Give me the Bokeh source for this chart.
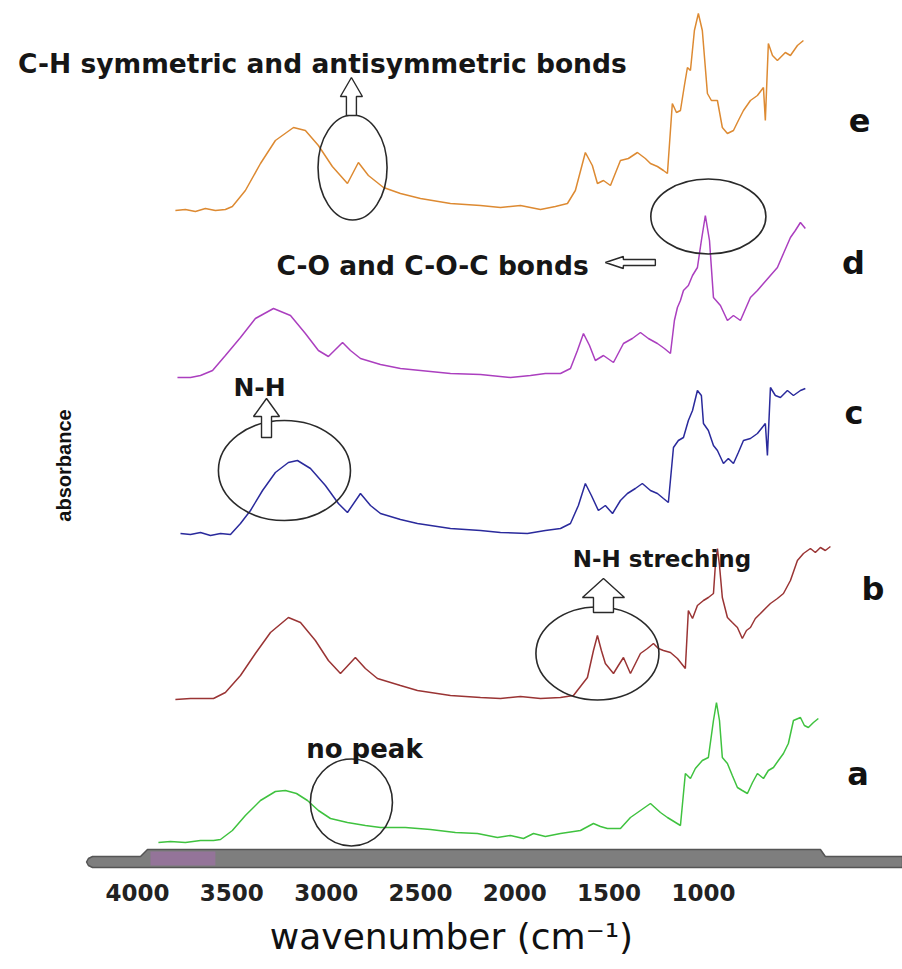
import math
from bokeh.plotting import figure
from bokeh.models import Range1d, FixedTicker
from bokeh.core.properties import value
from bokeh.embed import file_html
from bokeh.resources import INLINE

# ---------------- data (wavenumber in cm-1, absorbance in arbitrary units) ----------------
tick_values = [4000, 3500, 3000, 2500, 2000, 1500, 1000]

e_wn = [3799, 3746, 3693, 3640, 3587, 3534, 3497, 3428, 3348, 3269, 3173, 3110, 3041, 2967, 2887, 2829, 2776,
        2696, 2606, 2500, 2341, 2182, 2076, 1970, 1864, 1785, 1721, 1679, 1626, 1589, 1562, 1530, 1493, 1440,
        1398, 1350, 1308, 1281, 1244, 1212, 1191, 1165, 1143, 1122, 1101, 1085, 1069, 1048, 1027, 1006, 979,
        958, 926, 900, 873, 841, 815, 788, 751, 714, 682, 672, 656, 634, 608, 566, 539, 502, 470]
e_abs = [0.00, 0.01, -0.01, 0.02, 0.00, 0.01, 0.04, 0.20, 0.47, 0.70, 0.83, 0.80, 0.65, 0.44, 0.27, 0.48, 0.35,
         0.23, 0.17, 0.12, 0.07, 0.05, 0.03, 0.05, 0.01, 0.04, 0.07, 0.20, 0.58, 0.45, 0.27, 0.30, 0.25, 0.50,
         0.52, 0.58, 0.52, 0.47, 0.44, 0.40, 0.37, 1.07, 0.98, 1.00, 1.25, 1.43, 1.40, 1.80, 1.97, 1.80, 1.17,
         1.10, 1.10, 0.83, 0.77, 0.80, 0.90, 1.00, 1.10, 1.15, 1.23, 0.90, 1.67, 1.55, 1.50, 1.58, 1.55, 1.65, 1.70]

d_wn = [3788, 3719, 3666, 3602, 3534, 3454, 3375, 3279, 3189, 3110, 3041, 2988, 2913, 2871, 2818, 2712, 2606,
        2341, 2182, 2023, 1917, 1838, 1758, 1705, 1668, 1636, 1604, 1573, 1530, 1477, 1424, 1377, 1334, 1292,
        1244, 1207, 1175, 1154, 1138, 1122, 1106, 1080, 1058, 1032, 1011, 990, 968, 947, 910, 873, 841, 804,
        751, 714, 682, 645, 608, 576, 539, 513, 486, 460]
d_abs = [0.00, 0.00, 0.02, 0.07, 0.22, 0.40, 0.59, 0.69, 0.62, 0.44, 0.27, 0.21, 0.35, 0.27, 0.19, 0.13, 0.09,
         0.04, 0.03, 0.00, 0.02, 0.04, 0.04, 0.09, 0.27, 0.44, 0.32, 0.17, 0.22, 0.15, 0.34, 0.39, 0.45, 0.39,
         0.34, 0.29, 0.24, 0.57, 0.70, 0.77, 0.87, 0.92, 1.02, 1.10, 1.37, 1.62, 1.37, 0.80, 0.72, 0.57, 0.62,
         0.57, 0.80, 0.87, 0.94, 1.02, 1.10, 1.24, 1.40, 1.47, 1.55, 1.49]

c_wn = [3772, 3719, 3666, 3613, 3560, 3507, 3454, 3401, 3337, 3269, 3200, 3152, 3083, 3004, 2935, 2887, 2818,
        2765, 2712, 2606, 2516, 2341, 2182, 2076, 1933, 1838, 1758, 1705, 1663, 1626, 1594, 1557, 1520, 1482,
        1440, 1403, 1361, 1324, 1281, 1244, 1212, 1186, 1159, 1133, 1106, 1080, 1058, 1032, 1011, 1000, 974,
        947, 926, 894, 868, 841, 815, 788, 751, 714, 672, 661, 645, 619, 592, 555, 523, 486, 460]
c_abs = [0.00, -0.01, 0.01, -0.02, 0.00, -0.01, 0.10, 0.23, 0.43, 0.61, 0.71, 0.73, 0.65, 0.48, 0.30, 0.21, 0.40,
         0.28, 0.20, 0.14, 0.10, 0.05, 0.03, 0.01, 0.00, 0.03, 0.05, 0.10, 0.28, 0.50, 0.38, 0.23, 0.28, 0.20,
         0.33, 0.40, 0.45, 0.50, 0.43, 0.40, 0.35, 0.31, 0.86, 0.93, 0.96, 1.13, 1.23, 1.43, 1.38, 1.10, 1.03,
         0.88, 0.83, 0.70, 0.75, 0.70, 0.81, 0.93, 0.95, 1.00, 1.10, 0.78, 1.46, 1.38, 1.36, 1.43, 1.38, 1.43, 1.45]

b_wn = [3799, 3719, 3597, 3534, 3454, 3375, 3295, 3200, 3136, 3057, 2988, 2924, 2845, 2792, 2728, 2606, 2516,
        2341, 2182, 2076, 1970, 1864, 1758, 1689, 1615, 1583, 1562, 1541, 1520, 1477, 1451, 1424, 1387, 1334,
        1297, 1265, 1239, 1212, 1175, 1138, 1096, 1080, 1058, 1032, 1000, 974, 947, 937, 926, 915, 900, 873,
        847, 820, 794, 772, 751, 725, 698, 672, 645, 608, 576, 539, 502, 470, 433, 407, 380, 354, 327]
b_abs = [-0.01, 0.00, 0.00, 0.06, 0.23, 0.45, 0.66, 0.81, 0.76, 0.58, 0.38, 0.25, 0.41, 0.30, 0.20, 0.13, 0.08,
         0.03, 0.01, 0.00, 0.02, 0.00, 0.01, 0.03, 0.21, 0.48, 0.63, 0.48, 0.35, 0.25, 0.33, 0.41, 0.25, 0.45,
         0.50, 0.55, 0.50, 0.48, 0.46, 0.40, 0.30, 0.88, 0.80, 0.93, 0.98, 1.01, 1.05, 1.33, 1.50, 1.33, 1.01,
         0.81, 0.76, 0.71, 0.60, 0.68, 0.71, 0.80, 0.85, 0.90, 0.95, 1.00, 1.05, 1.18, 1.38, 1.45, 1.50, 1.46,
         1.51, 1.48, 1.52]

a_wn = [3889, 3825, 3746, 3666, 3597, 3560, 3497, 3428, 3348, 3269, 3216, 3157, 3099, 3041, 2977, 2887, 2792,
        2712, 2580, 2447, 2315, 2198, 2092, 2023, 1954, 1901, 1838, 1758, 1652, 1583, 1546, 1509, 1440, 1387,
        1334, 1281, 1228, 1191, 1122, 1096, 1069, 1043, 1006, 974, 947, 931, 915, 900, 873, 847, 820, 794, 767,
        740, 714, 682, 656, 629, 603, 576, 550, 523, 486, 465, 444, 417, 391]
a_abs = [-0.02, -0.01, -0.02, 0.00, 0.00, 0.01, 0.10, 0.25, 0.40, 0.49, 0.50, 0.47, 0.40, 0.30, 0.22, 0.18, 0.15,
         0.13, 0.13, 0.11, 0.08, 0.07, 0.03, 0.05, 0.02, 0.07, 0.04, 0.07, 0.10, 0.17, 0.14, 0.12, 0.12, 0.23,
         0.30, 0.37, 0.28, 0.23, 0.15, 0.67, 0.62, 0.72, 0.80, 0.83, 1.20, 1.38, 1.20, 0.83, 0.77, 0.65, 0.53,
         0.50, 0.47, 0.58, 0.67, 0.62, 0.70, 0.73, 0.80, 0.87, 0.97, 1.20, 1.23, 1.15, 1.13, 1.18, 1.22]

series_names = ["a", "b", "c", "d", "e"]
stack_offsets = [0.30, 1.72, 3.37, 4.93, 6.60]
series_colors = ["#3fc23f", "#9a3434", "#2a2a9c", "#ab3fbf", "#dd8a32"]
series_wn = [a_wn, b_wn, c_wn, d_wn, e_wn]
series_abs = [a_abs, b_abs, c_abs, d_abs, e_abs]

# ---------------- figure ----------------
PXW = 5.3    # wavenumber units per screen pixel
PXA = 0.01   # absorbance units per screen pixel

p = figure(width=902, height=969, x_range=Range1d(4726, -55), y_range=Range1d(0, 8.7),
           output_backend="svg", toolbar_location=None, y_axis_location=None,
           min_border_left=0, min_border_right=0, min_border_top=0, min_border_bottom=99)
p.xgrid.visible = False
p.ygrid.visible = False
p.outline_line_color = None
p.background_fill_color = "white"
p.border_fill_color = "white"

ax = p.xaxis[0]
ax.ticker = FixedTicker(ticks=tick_values)
ax.axis_line_color = None
ax.major_tick_line_color = None
ax.minor_tick_line_color = None
ax.major_tick_out = 0
ax.major_tick_in = 0
ax.major_label_standoff = 13
ax.major_label_text_font = "DejaVu Sans"
ax.major_label_text_font_style = "bold"
ax.major_label_text_font_size = "23px"
ax.major_label_text_color = "#222222"
ax.axis_label = "wavenumber (cm\u207b\u00b9)"
ax.axis_label_standoff = 12
ax.axis_label_text_font = "DejaVu Sans"
ax.axis_label_text_font_style = "normal"
ax.axis_label_text_font_size = "36px"
ax.axis_label_text_color = "#111111"

# grey base bar (axis strip of the original figure)
bar_x = [4238, 3984, 3947, 380, 354, -55, -55, 4238, 4260, 4270, 4260]
bar_y = [0.14, 0.14, 0.21, 0.21, 0.14, 0.14, 0.03, 0.03, 0.05, 0.085, 0.12]
p.patch(bar_x, bar_y, fill_color="#7e7e7e", line_color="#555555", line_width=1.5)
p.quad(left=[3931], right=[3587], bottom=[0.05], top=[0.19], fill_color="#a56caf", fill_alpha=0.55, line_color=None)

# spectra
for name, wn, ab, off, col in zip(series_names, series_wn, series_abs, stack_offsets, series_colors):
    p.line(wn, [v + off for v in ab], line_color=col, line_width=1.5)

# ellipses (x, y, width, height)
ell_x = [2860, 974, 3221, 1562, 2866]
ell_y = [7.03, 6.54, 4.00, 2.17, 0.68]
ell_w = [366, 610, 700, 652, 435]
ell_h = [1.05, 0.75, 1.00, 0.93, 0.87]
p.ellipse(ell_x, ell_y, width=ell_w, height=ell_h, fill_color=None, line_color="#2a2a2a", line_width=1.6)


def block_arrow(tip_w, tip_a, direction, head_len, head_half, shaft_half, length):
    if direction == "up":
        pts = [(0, 0), (head_half, head_len), (shaft_half, head_len), (shaft_half, length),
               (-shaft_half, length), (-shaft_half, head_len), (-head_half, head_len)]
    else:
        pts = [(0, 0), (head_len, -head_half), (head_len, -shaft_half), (length, -shaft_half),
               (length, shaft_half), (head_len, shaft_half), (head_len, head_half)]
    return [tip_w - dx * PXW for dx, dy in pts], [tip_a - dy * PXA for dx, dy in pts]


arrows = [(2866, 7.93, "up", 19, 11, 5, 38),
          (1520, 6.08, "left", 18, 6, 3, 50),
          (3316, 4.72, "up", 18, 13, 5, 39),
          (1530, 2.92, "up", 19, 21, 10, 34)]
axs, ays = [], []
for a in arrows:
    xs, ys = block_arrow(*a)
    axs.append(xs)
    ays.append(ys)
p.patches(axs, ays, fill_color="white", line_color="#2a2a2a", line_width=1.4)

# annotation texts
notes = ["C-H symmetric and antisymmetric bonds", "C-O and C-O-C bonds", "N-H", "N-H streching", "no peak"]
note_x = [3020, 2436, 3353, 1220, 2797]
note_y = [8.07, 6.05, 4.83, 3.12, 1.22]
note_size = ["26.5px", "26.5px", "25px", "23px", "26px"]
for t, x, y, s in zip(notes, note_x, note_y, note_size):
    p.text([x], [y], text=[t], text_align="center", text_baseline="alphabetic",
           text_font=value("DejaVu Sans"), text_font_style="bold", text_font_size=s, text_color="#161616")

lab_x = [181, 102, 202, 205, 173]
lab_y = [0.97, 2.82, 4.58, 6.08, 7.50]
p.text(lab_x, lab_y, text=series_names, text_align="center", text_baseline="alphabetic",
       text_font=value("DejaVu Sans"), text_font_style="bold", text_font_size="32px", text_color="#111111")

# y-axis title
p.text([4392], [4.05], text=["absorbance"], angle=math.pi / 2, text_align="center", text_baseline="middle",
       text_font=value("Liberation Sans"), text_font_style="bold", text_font_size="20px",
       text_color="#111111")

open("out.html", "w").write(file_html(p, INLINE))
